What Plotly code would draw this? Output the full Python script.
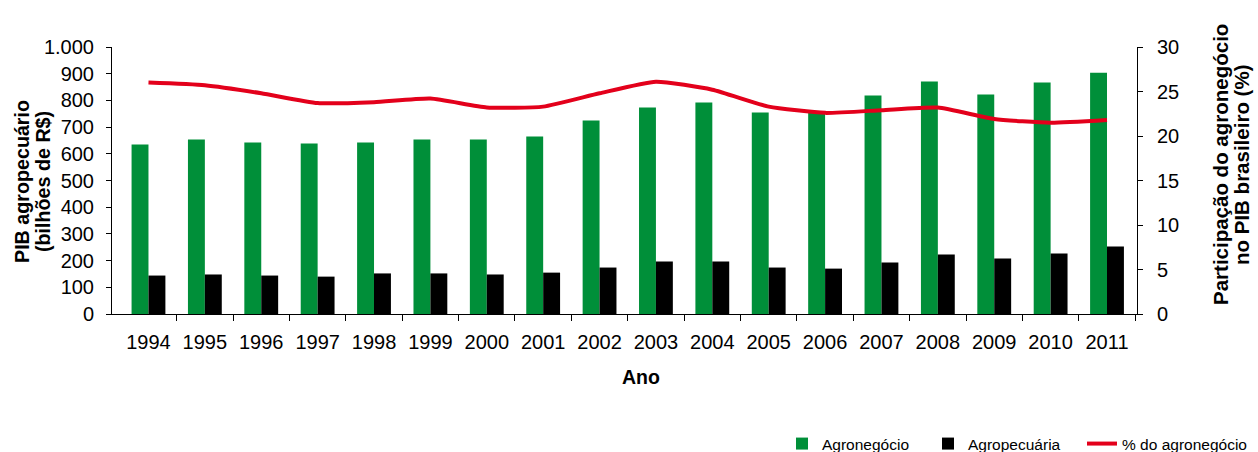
import plotly.graph_objects as go

years = ["1994", "1995", "1996", "1997", "1998", "1999", "2000", "2001", "2002",
         "2003", "2004", "2005", "2006", "2007", "2008", "2009", "2010", "2011"]
agronegocio = [635, 654, 642, 639, 642, 654, 654, 665, 725,
               773, 792, 755, 757, 818, 871, 822, 867, 904]
agropecuaria = [144, 148, 144, 140, 152, 152, 148, 155, 174,
                197, 197, 174, 170, 193, 223, 208, 227, 253]
pct_agro = [26.0, 25.7, 24.8, 23.7, 23.8, 24.2, 23.2, 23.3, 24.8,
            26.1, 25.2, 23.3, 22.6, 22.9, 23.2, 21.9, 21.5, 21.8]

y_ticks = [0, 100, 200, 300, 400, 500, 600, 700, 800, 900, 1000]
y_ticktext = ["0", "100", "200", "300", "400", "500", "600", "700", "800", "900", "1.000"]
y2_ticks = [0, 5, 10, 15, 20, 25, 30]

left_title = ["PIB agropecuário", "(bilhões de R$)"]
right_title = ["Participação do agronegócio", "no PIB brasileiro (%)"]

GREEN = "#008F39"
BLACK = "#000000"
RED = "#E3001B"
FONT = "Liberation Sans, Arial, sans-serif"

x = list(range(len(years)))

fig = go.Figure()
fig.add_trace(go.Bar(x=x, y=agronegocio, name="Agronegócio", legend="legend",
                     marker=dict(color=GREEN, line=dict(width=0))))
fig.add_trace(go.Bar(x=x, y=agropecuaria, name="Agropecuária", legend="legend2",
                     marker=dict(color=BLACK, line=dict(width=0))))
fig.add_trace(go.Scatter(x=x, y=pct_agro, name="% do agronegócio", mode="lines", legend="legend3",
                         line=dict(color=RED, width=4, shape="spline", smoothing=0.5),
                         yaxis="y2"))

L, R, T, B = 112, 121, 47, 138
W, H = 1258, 452
pw, ph = W - L - R, H - T - B


def px_x(p):
    return (p - L) / pw


def px_y(p):
    return (H - B - p) / ph


def legend_at(left_px):
    return dict(orientation="h", xref="container", yref="container",
                x=left_px / W, xanchor="left", y=(H - 444) / H, yanchor="middle",
                font=dict(size=15.5, family=FONT),
                bgcolor="rgba(0,0,0,0)", borderwidth=0)


annotations = []
for txt, xc in zip(left_title, [22, 43]):
    annotations.append(dict(text="<b>" + txt + "</b>", textangle=-90, xref="paper", yref="paper",
                            x=px_x(xc), y=px_y(182), xanchor="center", yanchor="middle",
                            showarrow=False, font=dict(size=19.7, family=FONT)))
for txt, xc in zip(right_title, [1220, 1241]):
    annotations.append(dict(text="<b>" + txt + "</b>", textangle=-90, xref="paper", yref="paper",
                            x=px_x(xc), y=px_y(165), xanchor="center", yanchor="middle",
                            showarrow=False, font=dict(size=20.5, family=FONT)))
annotations.append(dict(text="<b>Ano</b>", xref="paper", yref="paper", x=px_x(641),
                        y=px_y(377), xanchor="center", yanchor="middle",
                        showarrow=False, font=dict(size=19.5, family=FONT)))

fig.update_layout(
    width=W, height=H,
    margin=dict(l=L, r=R, t=T, b=B, pad=0, autoexpand=False),
    paper_bgcolor="white", plot_bgcolor="white",
    font=dict(family=FONT, size=20, color="black"),
    barmode="group", bargap=0.4, bargroupgap=0,
    showlegend=True,
    legend=legend_at(782),
    legend2=legend_at(928),
    legend3=legend_at(1082),
    xaxis=dict(range=[-0.647, 17.532], tickmode="array", tickvals=x, ticktext=years,
               ticks="", showline=True, linecolor="black", linewidth=1,
               showgrid=False, zeroline=False, ticklabelstandoff=10,
               minor=dict(tickvals=[i + 0.5 for i in range(len(years))], ticks="outside",
                          ticklen=6, tickcolor="black", showgrid=False)),
    yaxis=dict(range=[0, 1000], tickmode="array", tickvals=y_ticks, ticktext=y_ticktext,
               ticks="outside", ticklen=5, tickcolor="black", showline=True,
               linecolor="black", linewidth=1, showgrid=False, zeroline=False,
               ticklabelstandoff=8),
    yaxis2=dict(range=[0, 30], tickmode="array", tickvals=y2_ticks, overlaying="y",
                side="right", ticks="outside", ticklen=5, tickcolor="black",
                showline=True, linecolor="black", linewidth=1, showgrid=False,
                zeroline=False, ticklabelstandoff=10),
    annotations=annotations,
)

fig.write_html("out.html")
